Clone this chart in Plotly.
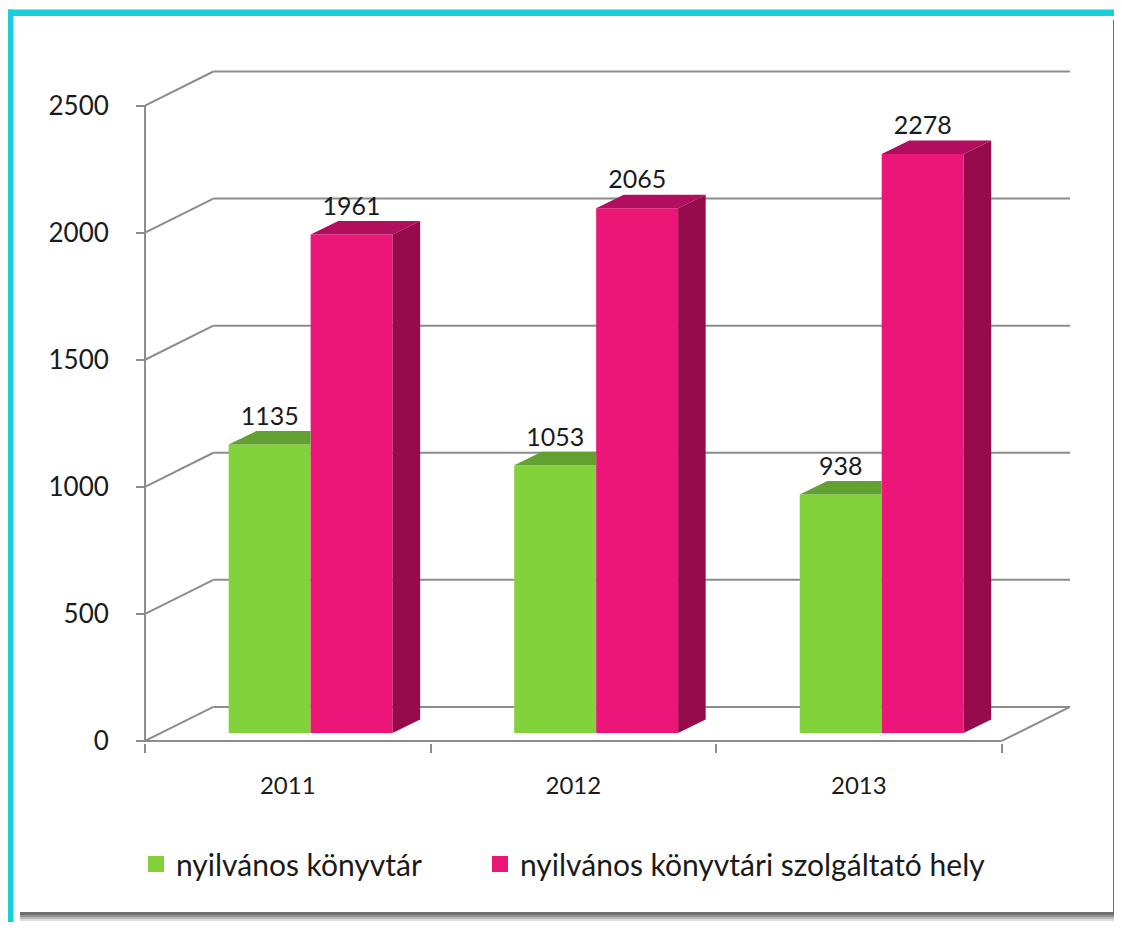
import plotly.graph_objects as go

# ---------------- data ----------------
years = ["2011", "2012", "2013"]
konyvtar = [1135, 1053, 938]
szolgaltato = [1961, 2065, 2278]
series_names = ["nyilvános könyvtár", "nyilvános könyvtári szolgáltató hely"]
y_ticks = [0, 500, 1000, 1500, 2000, 2500]

# ---------------- style ----------------
GREEN, GREEN_TOP = "#82d23c", "#62a032"
PINK, PINK_TOP, PINK_SIDE = "#ec1578", "#b20e5f", "#960b4c"
GRID = "#8c8c8c"
TEAL = "#19cdd9"
TXT = "#1a1a1a"
FONT = "Lato"

# oblique projection constants (category units / value units)
DX, DY = 0.2394, 134      # depth of walls
D0 = 0.235                # bar front plane position (fraction of depth)
BDX, BDY = 0.0965, 53     # bar depth
BW = 0.287                # bar width
G_OFF = -0.207            # left edge of first bar relative to category
BASE = D0 * DY

XR = [-0.5176, 2.757]
YR = [-8, 2640]
W, H = 1114, 914
L, R, T, B = 132, 47, 62, 179
PW, PH = W - L - R, H - T - B
PAGE = 8  # body margin of the page

def px(x):  # page pixel -> paper x
    return (x - PAGE - L) / PW

def py(y):  # page pixel -> paper y
    return (H - B - (y - PAGE)) / PH

idx = list(range(len(years)))
series = [konyvtar, szolgaltato]
offsets = [G_OFF, G_OFF + BW]
fronts = [GREEN, PINK]
legends = ["legend", "legend2"]

fig = go.Figure()

# front faces
for s, vals in enumerate(series):
    fig.add_trace(go.Bar(
        x=[i + offsets[s] + BW / 2 for i in idx], y=vals, base=BASE, width=BW,
        marker=dict(color=fronts[s], line=dict(width=0)),
        name=series_names[s], showlegend=False, hoverinfo="skip"))

# top faces
def tops(vals, off, clip):
    xs, ys = [], []
    for i, v in zip(idx, vals):
        xl, xr, top = i + off, i + off + BW, BASE + v
        if clip:
            xs += [xl, xr, xr, xl + BDX, xl, None]
        else:
            xs += [xl, xr, xr + BDX, xl + BDX, xl, None]
        ys += [top, top, top + BDY, top + BDY, top, None]
    return xs, ys

gx, gy = tops(konyvtar, offsets[0], True)
fig.add_trace(go.Scatter(x=gx, y=gy, fill="toself", fillcolor=GREEN_TOP, mode="lines",
                         line=dict(width=0, color=GREEN_TOP), showlegend=False, hoverinfo="skip"))
tx, ty = tops(szolgaltato, offsets[1], False)
fig.add_trace(go.Scatter(x=tx, y=ty, fill="toself", fillcolor=PINK_TOP, mode="lines",
                         line=dict(width=0, color=PINK_TOP), showlegend=False, hoverinfo="skip"))
# side faces of the pink bars
sx, sy = [], []
for i, v in zip(idx, szolgaltato):
    xr = i + offsets[1] + BW
    sx += [xr, xr, xr + BDX, xr + BDX, xr, None]
    sy += [BASE, BASE + v, BASE + v + BDY, BASE + BDY, BASE, None]
fig.add_trace(go.Scatter(x=sx, y=sy, fill="toself", fillcolor=PINK_SIDE, mode="lines",
                         line=dict(width=0, color=PINK_SIDE), showlegend=False, hoverinfo="skip"))

# value labels
for s, vals in enumerate(series):
    fig.add_trace(go.Scatter(
        x=[i + offsets[s] + BW / 2 for i in idx], y=[BASE + v + BDY for v in vals],
        mode="text", text=[str(v) for v in vals], textposition="top center",
        textfont=dict(family=FONT, size=25, color=TXT),
        showlegend=False, hoverinfo="skip", cliponaxis=False))

# legend entries (square swatches)
for s in range(2):
    fig.add_trace(go.Scatter(
        x=[None], y=[None], mode="markers", name=series_names[s],
        marker=dict(symbol="square", size=16, color=fronts[s]),
        legend=legends[s], hoverinfo="skip"))

shapes = []
# walls & gridlines
for v in y_ticks:
    shapes.append(dict(type="line", xref="x", yref="y", x0=-0.5, y0=v, x1=-0.5 + DX, y1=v + DY,
                       line=dict(color=GRID, width=2), layer="below"))
    shapes.append(dict(type="line", xref="x", yref="y", x0=-0.5 + DX, y0=v + DY, x1=2.5 + DX, y1=v + DY,
                       line=dict(color=GRID, width=2), layer="below"))
# front vertical axis, floor front edge and right edge
shapes.append(dict(type="line", xref="x", yref="y", x0=-0.5, y0=0, x1=-0.5, y1=y_ticks[-1],
                   line=dict(color=GRID, width=2), layer="below"))
shapes.append(dict(type="line", xref="x", yref="y", x0=-0.5, y0=0, x1=2.5, y1=0,
                   line=dict(color=GRID, width=2), layer="below"))
shapes.append(dict(type="line", xref="x", yref="y", x0=2.5, y0=0, x1=2.5 + DX, y1=DY,
                   line=dict(color=GRID, width=2), layer="below"))

# picture frame: shadow, teal edges
for k, op in enumerate([0.18, 0.22, 0.3, 0.4]):
    d = 9 - 2 * k
    shapes.append(dict(type="rect", xref="paper", yref="paper",
                       x0=px(20), x1=px(1113 + d), y0=py(912 + d), y1=py(20),
                       fillcolor=f"rgba(60,60,60,{op})", line=dict(width=0), layer="below"))
shapes.append(dict(type="rect", xref="paper", yref="paper",
                   x0=px(13), x1=px(1113), y0=py(912), y1=py(16),
                   fillcolor="white", line=dict(width=0), layer="below"))
shapes.append(dict(type="rect", xref="paper", yref="paper",
                   x0=px(8), x1=px(1122), y0=py(16), y1=py(9.5),
                   fillcolor=TEAL, line=dict(width=0), layer="below"))
shapes.append(dict(type="rect", xref="paper", yref="paper",
                   x0=px(8), x1=px(13.5), y0=py(930), y1=py(9.5),
                   fillcolor=TEAL, line=dict(width=0), layer="below"))

legend_common = dict(orientation="h", xanchor="left", yanchor="middle",
                     font=dict(family=FONT, size=30, color=TXT), bgcolor="rgba(0,0,0,0)",
                     borderwidth=0)

fig.update_layout(
    width=W, height=H,
    margin=dict(l=L, r=R, t=T, b=B),
    paper_bgcolor="white", plot_bgcolor="rgba(0,0,0,0)",
    barmode="overlay", shapes=shapes,
    font=dict(family=FONT, color=TXT),
    xaxis=dict(range=XR, showgrid=False, zeroline=False, showline=False,
               tickmode="array", tickvals=idx, ticktext=years, ticks="",
               tickfont=dict(size=24, color=TXT), ticklabelstandoff=26,
               minor=dict(tickmode="array", tickvals=[-0.5, 0.5, 1.5, 2.5], ticks="outside",
                          ticklen=9, tickwidth=2, tickcolor=GRID, showgrid=False)),
    yaxis=dict(range=YR, showgrid=False, zeroline=False, showline=False,
               anchor="free", position=(-0.5 - XR[0]) / (XR[1] - XR[0]),
               tickmode="array", tickvals=y_ticks, ticks="outside", ticklen=9, tickwidth=2,
               tickcolor=GRID, tickfont=dict(size=26, color=TXT), ticklabelstandoff=22),
    legend=dict(x=px(136), y=py(864), **legend_common),
    legend2=dict(x=px(480), y=py(864), **legend_common),
    showlegend=True,
)

fig.write_html("out.html")
